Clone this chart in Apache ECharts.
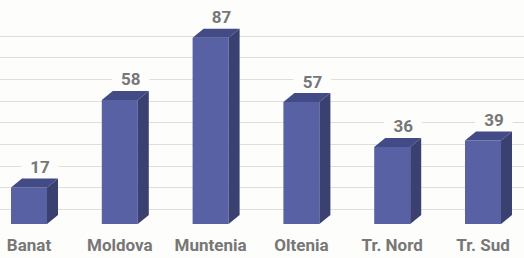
<!DOCTYPE html>
<html>
<head>
<meta charset="utf-8">
<script src="https://cdn.jsdelivr.net/npm/echarts@6/dist/echarts.min.js"></script>
<style>
html,body{margin:0;padding:0;background:#fdfdfb;}
#c{width:524px;height:258px;}
</style>
</head>
<body>
<div id="c"></div>
<script>
const categories = ['Banat', 'Moldova', 'Muntenia', 'Oltenia', 'Tr. Nord', 'Tr. Sud'];
const values = [17, 58, 87, 57, 36, 39];
const gridTicks = [0, 80, 10];

const FONT = 'Roboto, "Liberation Sans", sans-serif';
const TEXT_COLOR = '#777777';
const BAR_W = 36, DX = 11, DY = 9;

const chart = echarts.init(document.getElementById('c'), null, {renderer: 'svg'});
chart.setOption({
  backgroundColor: '#fdfdfb',
  animation: false,
  grid: [
    {left: 29, right: 41, top: 31.4, bottom: 34},
    {left: 0, right: 0, top: 36, bottom: 49}
  ],
  xAxis: [
    {type: 'category', data: categories, gridIndex: 0, boundaryGap: false,
     axisLine: {show: false}, axisTick: {show: false},
     axisLabel: {interval: 0, hideOverlap: false, color: TEXT_COLOR, fontFamily: FONT,
       fontWeight: 'bold', fontSize: 17, margin: 12}},
    {type: 'value', gridIndex: 1, show: false}
  ],
  yAxis: [
    {type: 'value', gridIndex: 0, min: 0, max: 90, show: false, splitLine: {show: false}},
    {type: 'value', gridIndex: 1, min: gridTicks[0], max: gridTicks[1], interval: gridTicks[2],
     axisLine: {show: false}, axisTick: {show: false}, axisLabel: {show: false},
     splitLine: {show: true, lineStyle: {color: '#dededc', width: 1}}}
  ],
  series: [{
    type: 'custom',
    xAxisIndex: 0, yAxisIndex: 0,
    data: values.map((v, i) => [i, v]),
    renderItem: function (params, api) {
      const i = api.value(0), v = api.value(1);
      const top = api.coord([i, v]);
      const base = api.coord([i, 0]);
      const hw = BAR_W / 2;
      const x0 = top[0] - hw, x1 = top[0] + hw, yT = top[1], yB = base[1];
      return {
        type: 'group',
        children: [
          {type: 'polygon', shape: {points: [[x0, yT], [x1, yT], [x1, yB], [x0, yB]]},
           style: {fill: '#5961a5'}},
          {type: 'polygon', shape: {points: [[x0, yT], [x0 + DX, yT - DY], [x1 + DX, yT - DY], [x1, yT]]},
           style: {fill: '#434b87'}},
          {type: 'polygon', shape: {points: [[x1, yT], [x1 + DX, yT - DY], [x1 + DX, yB - DY], [x1, yB]]},
           style: {fill: '#3a4070'}},
          {type: 'text', z2: 10,
           style: {text: String(v), x: top[0] + DX, y: yT - DY - 2,
             align: 'center', verticalAlign: 'bottom',
             fill: TEXT_COLOR, font: 'bold 17px ' + FONT,
             backgroundColor: '#fdfdfb', padding: [1, 9, 1, 9]}}
        ]
      };
    }
  }]
});
</script>
</body>
</html>
